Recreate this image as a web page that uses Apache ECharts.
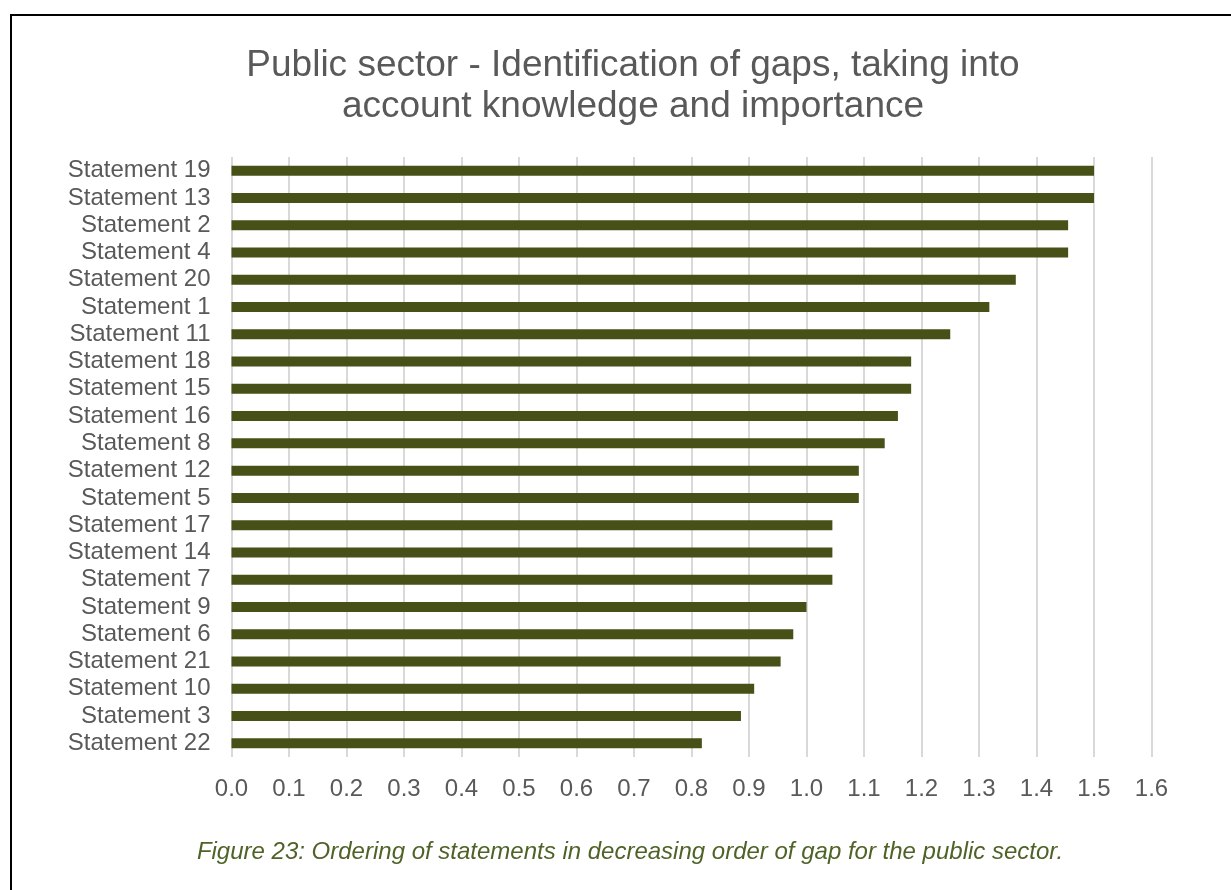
<!DOCTYPE html>
<html>
<head>
<meta charset="utf-8">
<script src="https://cdn.jsdelivr.net/npm/echarts@6/dist/echarts.min.js"></script>
<style>
html,body{margin:0;padding:0;background:#fff;}
#chart{width:1231px;height:890px;position:absolute;left:0;top:0;}
#frame{position:absolute;left:10px;top:14px;width:1231px;height:890px;border-top:2px solid #000;border-left:2px solid #000;pointer-events:none;}
</style>
</head>
<body>
<div id="chart"></div>
<div id="frame"></div>
<script>
const categories = ["Statement 19","Statement 13","Statement 2","Statement 4","Statement 20","Statement 1","Statement 11","Statement 18","Statement 15","Statement 16","Statement 8","Statement 12","Statement 5","Statement 17","Statement 14","Statement 7","Statement 9","Statement 6","Statement 21","Statement 10","Statement 3","Statement 22"];
const gapValues = [1.5,1.5,1.455,1.455,1.364,1.318,1.25,1.182,1.182,1.159,1.136,1.091,1.091,1.045,1.045,1.045,1.0,0.977,0.955,0.909,0.886,0.818];
const titleText = "Public sector - Identification of gaps, taking into\naccount knowledge and importance";
const captionText = "Figure 23: Ordering of statements in decreasing order of gap for the public sector.";

const chart = echarts.init(document.getElementById('chart'));
chart.setOption({
  animation:false,
  backgroundColor:'#fff',
  title:[{
    text:titleText,
    left:628, top:40, textAlign:'center',
    textStyle:{fontFamily:'Liberation Sans, Arial, sans-serif',fontSize:37,fontWeight:'normal',color:'#595959',lineHeight:41}
  },{
    text:captionText,
    left:625, top:835, textAlign:'center',
    textStyle:{fontFamily:'Liberation Sans, Arial, sans-serif',fontSize:24,fontWeight:'normal',fontStyle:'italic',color:'#4f6228'}
  }],
  grid:{left:231.5,right:79.5,top:157,bottom:133,containLabel:false},
  xAxis:{
    type:'value',min:0,max:1.6,interval:0.1,
    axisLine:{show:false},axisTick:{show:false},
    axisLabel:{margin:20,fontFamily:'Liberation Sans, Arial, sans-serif',fontSize:24,color:'#595959',formatter:v=>v.toFixed(1)},
    splitLine:{show:true,lineStyle:{color:'#d9d9d9',width:2}}
  },
  yAxis:{
    type:'category',data:categories,inverse:true,
    axisLine:{show:false},axisTick:{show:false},
    axisLabel:{interval:0,margin:21,fontFamily:'Liberation Sans, Arial, sans-serif',fontSize:24,color:'#595959',padding:[2,0,0,0]}
  },
  series:[{
    type:'bar',data:gapValues,barWidth:10,
    itemStyle:{color:'#475017'}
  }]
});
</script>
</body>
</html>
